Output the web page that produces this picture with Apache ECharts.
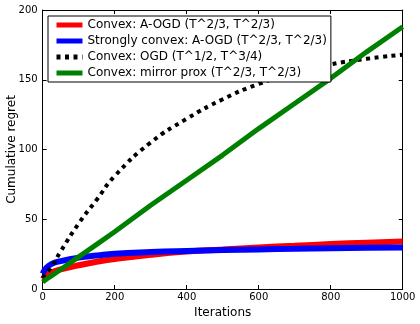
<!DOCTYPE html>
<html>
<head>
<meta charset="utf-8">
<script src="https://cdn.jsdelivr.net/npm/echarts@6/dist/echarts.min.js"></script>
<style>
  html, body { margin: 0; padding: 0; background: #fff; }
  #chart { width: 420px; height: 324px; }
</style>
</head>
<body>
<div id="chart"></div>
<script>
// iterations sampled along the x axis
const iterations = [0, 10, 25, 50, 100, 150, 200, 300, 400, 500, 600, 700, 800, 900, 1000];
// cumulative regret
const convexAOGD = [7, 9.5, 12, 14, 17, 19.5, 21.5, 24.5, 26.8, 28.3, 29.8, 31, 32.2, 33.2, 34];
const stronglyAOGD = [11, 15, 18, 20, 22.5, 24, 25.3, 26.5, 27.3, 27.9, 28.4, 28.8, 29.2, 29.5, 29.8];
const convexOGD = [8, 11.5, 16, 27, 47, 64, 81, 105, 122, 136, 147, 155, 161, 165, 168];
const mirrorProx = [5, 7, 9.6, 14, 23, 32, 41, 60, 78, 96, 115, 133, 151, 170, 188];

const names = [
  "Convex: A-OGD (T^2/3, T^2/3)",
  "Strongly convex: A-OGD (T^2/3, T^2/3)",
  "Convex: OGD (T^1/2, T^3/4)",
  "Convex: mirror prox (T^2/3, T^2/3)"
];

function pairs(ys) {
  return iterations.map((x, i) => [x, ys[i]]);
}

const chart = echarts.init(document.getElementById("chart"), null, { renderer: "canvas" });

const font = "DejaVu Sans";
const frame = { show: true, onZero: false, lineStyle: { color: "#000", width: 1 } };
const tick = { show: true, inside: true, length: 4, lineStyle: { color: "#000" } };

const option = {
  backgroundColor: "#fff",
  animation: false,
  textStyle: { fontFamily: font },
  grid: {
    left: 42.7, right: 17.3, top: 10, bottom: 35,
    containLabel: false,
    outerBoundsMode: "none"
  },
  legend: {
    orient: "vertical",
    left: 48,
    top: 16,
    padding: [3, 4, 3, 6],
    itemGap: 4,
    itemWidth: 26,
    itemHeight: 14,
    backgroundColor: "#fff",
    borderColor: "#000",
    borderWidth: 1,
    itemStyle: { opacity: 0 },
    lineStyle: { width: 5 },
    textStyle: { fontFamily: font, fontSize: 12, color: "#000" },
    data: names
  },
  xAxis: [
    {
      type: "value",
      position: "bottom",
      min: 0, max: 1000, interval: 200,
      name: "Iterations",
      nameLocation: "middle",
      nameGap: 15,
      nameTextStyle: { fontFamily: font, fontSize: 12, color: "#000" },
      axisLine: frame,
      axisTick: tick,
      axisLabel: {
        fontFamily: font, fontSize: 10, color: "#000", margin: 3,
        formatter: (v) => String(v)
      },
      splitLine: { show: false }
    },
    {
      type: "value",
      position: "top",
      min: 0, max: 1000, interval: 200,
      axisLine: frame,
      axisTick: tick,
      axisLabel: { show: false },
      splitLine: { show: false }
    }
  ],
  yAxis: [
    {
      type: "value",
      position: "left",
      min: 0, max: 200, interval: 50,
      name: "Cumulative regret",
      nameLocation: "middle",
      nameGap: 25,
      nameMoveOverlap: false,
      nameTextStyle: { fontFamily: font, fontSize: 12, color: "#000" },
      axisLine: frame,
      axisTick: tick,
      axisLabel: { fontFamily: font, fontSize: 10, color: "#000", margin: 5, hideOverlap: false },
      splitLine: { show: false }
    },
    {
      type: "value",
      position: "right",
      min: 0, max: 200, interval: 50,
      axisLine: frame,
      axisTick: tick,
      axisLabel: { show: false },
      splitLine: { show: false }
    }
  ],
  series: [
    {
      name: names[0], type: "line", smooth: true, symbol: "none",
      data: pairs(convexAOGD),
      lineStyle: { color: "#ff0000", width: 6 },
      itemStyle: { color: "#ff0000" }
    },
    {
      name: names[1], type: "line", smooth: true, symbol: "none",
      data: pairs(stronglyAOGD),
      lineStyle: { color: "#0000ff", width: 6 },
      itemStyle: { color: "#0000ff" }
    },
    {
      name: names[2], type: "line", smooth: true, symbol: "none",
      data: pairs(convexOGD),
      lineStyle: { color: "#000", width: 4, type: [4, 4.5], cap: "butt" },
      itemStyle: { color: "#000" }
    },
    {
      name: names[3], type: "line", smooth: false, symbol: "none",
      data: pairs(mirrorProx),
      lineStyle: { color: "#008000", width: 5 },
      itemStyle: { color: "#008000" }
    }
  ]
};

chart.setOption(option);
</script>
</body>
</html>
